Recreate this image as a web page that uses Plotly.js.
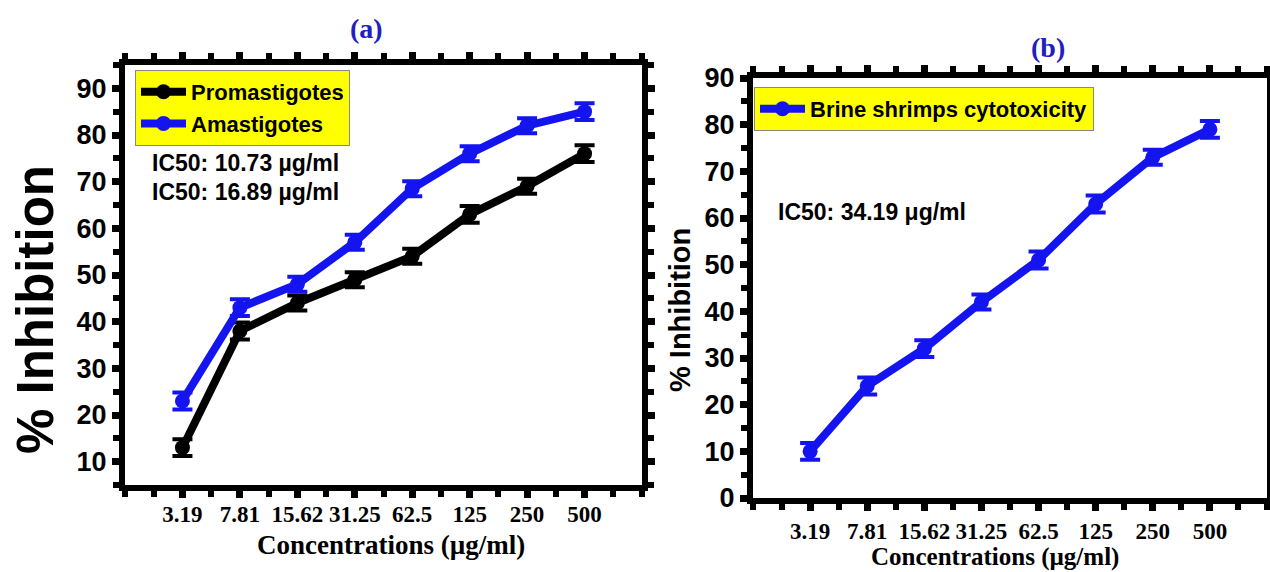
<!DOCTYPE html>
<html>
<head>
<meta charset="utf-8">
<script src="https://cdn.plot.ly/plotly-3.0.1.min.js"></script>
<style>html,body{margin:0;padding:0;background:#fff;}#chart{width:1270px;height:572px;}</style>
</head>
<body>
<div id="chart"></div>
<script>
// ---- data ----
const categories = ["3.19", "7.81", "15.62", "31.25", "62.5", "125", "250", "500"];
const promastigotes = [13, 38, 44, 49, 54, 63, 69, 76];
const promastigotesErr = [1.8, 1.8, 1.6, 1.6, 1.6, 1.8, 1.6, 1.8];
const amastigotes = [23, 43, 48, 57, 68.5, 76, 82, 85];
const amastigotesErr = [1.8, 1.8, 1.6, 1.6, 1.6, 1.6, 1.6, 1.8];
const brine = [10, 24, 32, 42, 51, 63, 73, 79];
const brineErr = [1.8, 1.8, 1.8, 1.6, 1.8, 1.8, 1.6, 1.8];
const yTicksA = [10, 20, 30, 40, 50, 60, 70, 80, 90];
const yTicksB = [0, 10, 20, 30, 40, 50, 60, 70, 80, 90];

const idx = categories.map((c, i) => i);
const sans = "Liberation Sans, Arial, sans-serif";
const serif = "Liberation Serif, Times New Roman, serif";
const BLUE = "#1414f0";

function tr(name, y, err, color, xa, ya, legend) {
  return {
    x: idx, y: y, name: name, type: "scatter", mode: "lines+markers",
    xaxis: xa, yaxis: ya, legend: legend,
    line: {color: color, width: 8},
    marker: {color: color, size: 15, symbol: "circle"},
    error_y: {type: "data", array: err, visible: true, color: color, thickness: 4, width: 10}
  };
}

const data = [
  tr("Promastigotes", promastigotes, promastigotesErr, "#000000", "x", "y", "legend"),
  tr("Amastigotes", amastigotes, amastigotesErr, BLUE, "x", "y", "legend"),
  tr("Brine shrimps cytotoxicity", brine, brineErr, BLUE, "x2", "y2", "legend2")
];

function xax(domain, anchor, fsize, standoff) {
  return {
    domain: domain, anchor: anchor, range: [-1, 8], type: "linear",
    tickvals: idx, ticktext: categories, tickangle: 0,
    tickfont: {family: serif, size: fsize, color: "#000", weight: "bold"},
    showline: true, linecolor: "#000", linewidth: 6, mirror: "allticks",
    ticks: "outside", ticklen: 7, tickwidth: 7, tickcolor: "#000",
    minor: {dtick: 0.5, tick0: -1, ticks: "outside", ticklen: 6, tickwidth: 6, tickcolor: "#000"},
    showgrid: false, zeroline: false, ticklabelstandoff: standoff
  };
}
function yax(domain, anchor, range, vals) {
  return {
    domain: domain, anchor: anchor, range: range,
    tickvals: vals, ticktext: vals.map(String),
    tickfont: {family: sans, size: 27, color: "#000", weight: "bold"},
    showline: true, linecolor: "#000", linewidth: 6, mirror: "allticks",
    ticks: "outside", ticklen: 7, tickwidth: 7, tickcolor: "#000",
    minor: {dtick: 5, tick0: 0, ticks: "outside", ticklen: 6, tickwidth: 6, tickcolor: "#000"},
    showgrid: false, zeroline: false
  };
}

function note(text, x, y, size, opts) {
  return Object.assign({
    text: text, xref: "paper", yref: "paper", x: x / 1270, y: 1 - y / 572,
    xanchor: "center", yanchor: "middle", showarrow: false,
    font: {family: sans, size: size, color: "#000", weight: "bold"}
  }, opts || {});
}

const layout = {
  width: 1270, height: 572,
  margin: {l: 0, r: 0, t: 0, b: 0},
  paper_bgcolor: "#fff", plot_bgcolor: "#fff",
  showlegend: true,
  xaxis: xax([125 / 1270, 642 / 1270], "y", 23, -4),
  yaxis: yax([1 - 485 / 572, 1 - 65 / 572], "x", [5, 95], yTicksA),
  xaxis2: xax([753 / 1270, 1267 / 1270], "y2", 23, 0),
  yaxis2: yax([1 - 498 / 572, 1 - 78 / 572], "x2", [0, 90], yTicksB),
  legend: {
    x: 135 / 1270, y: 1 - 70 / 572, xanchor: "left", yanchor: "top",
    bgcolor: "#ffff00", bordercolor: "#888", borderwidth: 1,
    font: {family: sans, size: 22, color: "#000", weight: "bold"},
    itemwidth: 45, tracegroupgap: 0
  },
  legend2: {
    x: 754 / 1270, y: 1 - 87 / 572, xanchor: "left", yanchor: "top",
    bgcolor: "#ffff00", bordercolor: "#888", borderwidth: 1,
    font: {family: sans, size: 22, color: "#000", weight: "bold"},
    itemwidth: 45
  },
  annotations: [
    note("(a)", 366, 28, 28, {font: {family: serif, size: 28, color: "#2020c0", weight: "bold"}}),
    note("(b)", 1048, 47, 28, {font: {family: serif, size: 28, color: "#2020c0", weight: "bold"}}),
    note("% Inhibition", 35, 310, 51, {textangle: -90}),
    note("% Inhibition", 680, 310, 29, {textangle: -90}),
    note("Concentrations (µg/ml)", 391, 545, 27, {font: {family: serif, size: 27, color: "#000", weight: "bold"}}),
    note("Concentrations (µg/ml)", 995, 557, 25, {font: {family: serif, size: 25, color: "#000", weight: "bold"}}),
    note("IC50: 10.73 µg/ml", 150, 163, 23, {xanchor: "left"}),
    note("IC50: 16.89 µg/ml", 150, 192, 23, {xanchor: "left"}),
    note("IC50: 34.19 μg/ml", 776, 212, 23, {xanchor: "left"})
  ]
};

Plotly.newPlot("chart", data, layout, {displayModeBar: false, staticPlot: true});
</script>
</body>
</html>
